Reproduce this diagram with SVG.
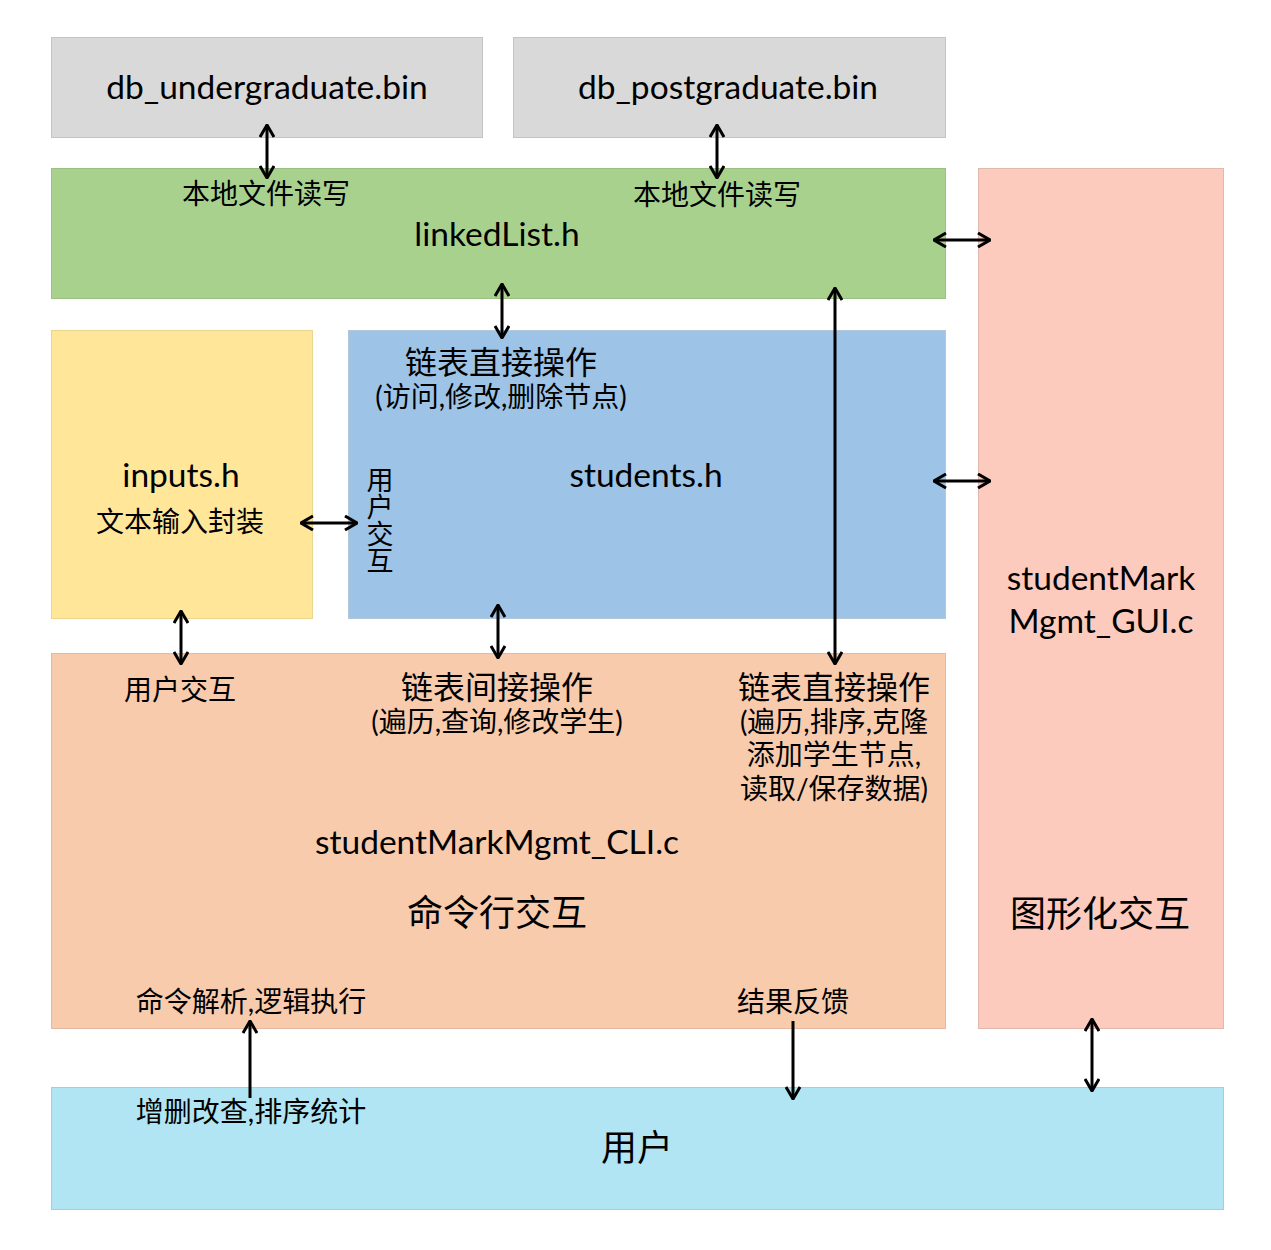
<svg xmlns="http://www.w3.org/2000/svg" width="1271" height="1250" viewBox="0 0 1271 1250">
<defs>
<marker id="ah" viewBox="0 0 14 16" refX="13" refY="8" markerWidth="14" markerHeight="16" markerUnits="userSpaceOnUse" orient="auto-start-reverse">
<path d="M1,1 L13,8 L1,15" fill="none" stroke="#000" stroke-width="3"/>
</marker>
<style>
.t{font-family:Lato,"Noto Sans CJK SC",sans-serif;fill:#000;text-anchor:middle}
.en{font-size:33.5px}
.s{font-size:28px}
.m{font-size:32px}
.l{font-size:36px}
.v{font-family:"Noto Sans CJK SC",sans-serif;font-size:27px;writing-mode:tb;text-anchor:start}
.c{fill:none;stroke:#000;stroke-width:3}
</style>
</defs>
<rect width="1271" height="1250" fill="#fff"/>
<g id="db_undergraduate">
<rect x="51.5" y="37.5" width="431" height="100" fill="#D9D9D9" stroke="#C4C4C4"/>
<text class="t en" x="267" y="99">db_undergraduate.bin</text>
</g>
<g id="db_postgraduate">
<rect x="513.5" y="37.5" width="432" height="100" fill="#D9D9D9" stroke="#C4C4C4"/>
<text class="t en" x="728" y="99">db_postgraduate.bin</text>
</g>
<g id="linkedList">
<rect x="51.5" y="168.5" width="894" height="130" fill="#A9D18E" stroke="#9CBF84"/>
<text class="t s" x="266" y="204">本地文件读写</text>
<text class="t s" x="717" y="205">本地文件读写</text>
<text class="t en" x="497" y="246">linkedList.h</text>
</g>
<g id="inputs">
<rect x="51.5" y="330.5" width="261" height="288" fill="#FFE699" stroke="#EAD58F"/>
<text class="t en" x="181" y="487">inputs.h</text>
<text class="t s" x="180" y="532">文本输入封装</text>
</g>
<g id="students">
<rect x="348.5" y="330.5" width="597" height="288" fill="#9DC3E6" stroke="#B4C7D8"/>
<text class="t m" x="501" y="374">链表直接操作</text>
<text class="t s" x="501" y="407">(访问,修改,删除节点)</text>
<text class="t en" x="646" y="487">students.h</text>
<text class="v" x="380" y="466">用户交互</text>
</g>
<g id="cli">
<rect x="51.5" y="653.5" width="894" height="375" fill="#F8CBAD" stroke="#E3B9A0"/>
<text class="t s" x="180" y="700">用户交互</text>
<text class="t m" x="497" y="699">链表间接操作</text>
<text class="t s" x="497" y="732">(遍历,查询,修改学生)</text>
<text class="t m" x="834" y="699">链表直接操作</text>
<text class="t s" x="834" y="732">(遍历,排序,克隆</text>
<text class="t s" x="834" y="765">添加学生节点,</text>
<text class="t s" x="834" y="799">读取/保存数据)</text>
<text class="t en" x="497" y="854">studentMarkMgmt_CLI.c</text>
<text class="t l" x="497" y="926">命令行交互</text>
<text class="t s" x="251" y="1012">命令解析,逻辑执行</text>
<text class="t s" x="793" y="1012">结果反馈</text>
</g>
<g id="gui">
<rect x="978.5" y="168.5" width="245" height="860" fill="#FCCBBE" stroke="#E0B8AD"/>
<text class="t en" x="1101" y="590">studentMark</text>
<text class="t en" x="1101" y="633">Mgmt_GUI.c</text>
<text class="t l" x="1100" y="927">图形化交互</text>
</g>
<g id="user">
<rect x="51.5" y="1087.5" width="1172" height="122" fill="#B1E5F3" stroke="#A9CCD8"/>
<text class="t s" x="251" y="1122">增删改查,排序统计</text>
<text class="t l" x="637" y="1161">用户</text>
</g>
<g id="connectors">
<line class="c" x1="267" y1="125" x2="267" y2="178" marker-start="url(#ah)" marker-end="url(#ah)"/>
<line class="c" x1="717" y1="125" x2="717" y2="178" marker-start="url(#ah)" marker-end="url(#ah)"/>
<line class="c" x1="934" y1="240" x2="990" y2="240" marker-start="url(#ah)" marker-end="url(#ah)"/>
<line class="c" x1="934" y1="481" x2="990" y2="481" marker-start="url(#ah)" marker-end="url(#ah)"/>
<line class="c" x1="502" y1="284" x2="502" y2="338" marker-start="url(#ah)" marker-end="url(#ah)"/>
<line class="c" x1="835" y1="288" x2="835" y2="664" marker-start="url(#ah)" marker-end="url(#ah)"/>
<line class="c" x1="301" y1="523" x2="357" y2="523" marker-start="url(#ah)" marker-end="url(#ah)"/>
<line class="c" x1="181" y1="611" x2="181" y2="664" marker-start="url(#ah)" marker-end="url(#ah)"/>
<line class="c" x1="498" y1="605" x2="498" y2="658" marker-start="url(#ah)" marker-end="url(#ah)"/>
<line class="c" x1="250" y1="1098" x2="250" y2="1021" marker-end="url(#ah)"/>
<line class="c" x1="793" y1="1021" x2="793" y2="1099" marker-end="url(#ah)"/>
<line class="c" x1="1092" y1="1019" x2="1092" y2="1091" marker-start="url(#ah)" marker-end="url(#ah)"/>
</g>
</svg>
